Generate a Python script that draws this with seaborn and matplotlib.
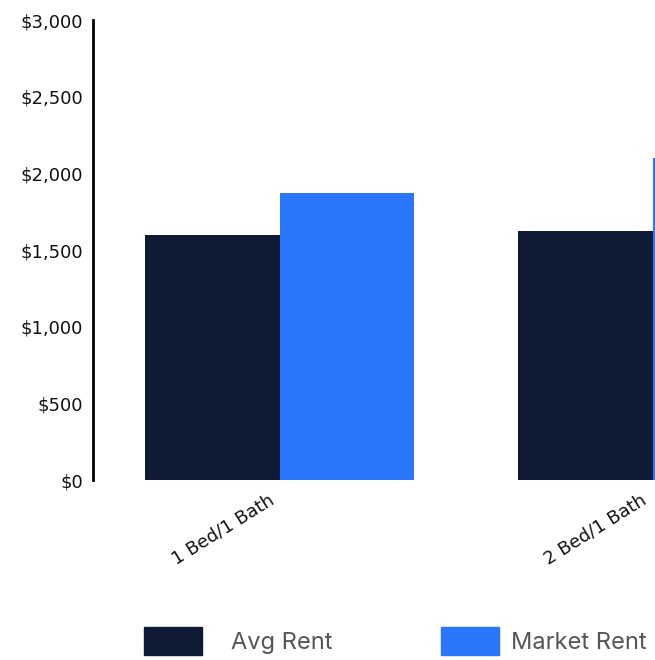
import pandas as pd
import matplotlib.pyplot as plt
import matplotlib.ticker as mticker
import matplotlib.transforms as mtransforms
import seaborn as sns

# values
unit_types = ['1 Bed/1 Bath', '2 Bed/1 Bath']
avg_rent = [1600, 1625]
market_rent = [1875, 2100]
series_names = ['Avg Rent', 'Market Rent']
palette = ['#0F1B35', '#2B77FC']

df = pd.DataFrame({
    'unit': unit_types * 2,
    'rent': avg_rent + market_rent,
    'series': [series_names[0]] * len(unit_types) + [series_names[1]] * len(unit_types),
})

sns.set_style('white')
plt.rcParams['font.family'] = ['DejaVu Sans']

fig = plt.figure(figsize=(6.55, 6.6), dpi=100)
# axes run past the right edge, as in the cropped reference
ax = fig.add_axes([93 / 655, 1 - 480 / 660, 746 / 655, 460 / 660])

sns.barplot(data=df, x='unit', y='rent', hue='series', palette=palette,
            width=0.72, ax=ax, legend=False, saturation=1, linewidth=0)

ax.set_xlim(-0.5, 1.5)
ax.set_ylim(0, 3000)
ax.set_yticks(range(0, 3001, 500))
ax.yaxis.set_major_formatter(mticker.FuncFormatter(lambda v, p: f'${v:,.0f}'))
ax.set_xlabel('')
ax.set_ylabel('')

for side in ['top', 'right', 'bottom']:
    ax.spines[side].set_visible(False)
ax.spines['left'].set_linewidth(2)
ax.spines['left'].set_color('black')

ax.tick_params(axis='y', length=0, pad=7, labelsize=13, labelcolor='#111111')
ax.tick_params(axis='x', length=0, pad=8, labelsize=13, labelcolor='#111111')
shift = mtransforms.ScaledTranslation(-12 / 100, 0, fig.dpi_scale_trans)
for lbl in ax.get_xticklabels():
    lbl.set_rotation(32)
    lbl.set_ha('right')
    lbl.set_rotation_mode('anchor')
    lbl.set_transform(lbl.get_transform() + shift)

# legend entries placed one by one to match the reference spacing
legend_x = [144 / 655, 441 / 655]
text_pads = [1.25, 0.5]
for name, color, lx, pad in zip(series_names, palette, legend_x, text_pads):
    fig.legend([plt.Rectangle((0, 0), 1, 1, color=color)], [name],
               loc='center left', bbox_to_anchor=(lx, 1 - 641 / 660),
               frameon=False, borderpad=0, borderaxespad=0,
               prop={'family': 'Inter', 'size': 17}, labelcolor='#555555',
               handlelength=2.45, handleheight=1.4, handletextpad=pad)

fig.savefig('out.png', dpi=100)
